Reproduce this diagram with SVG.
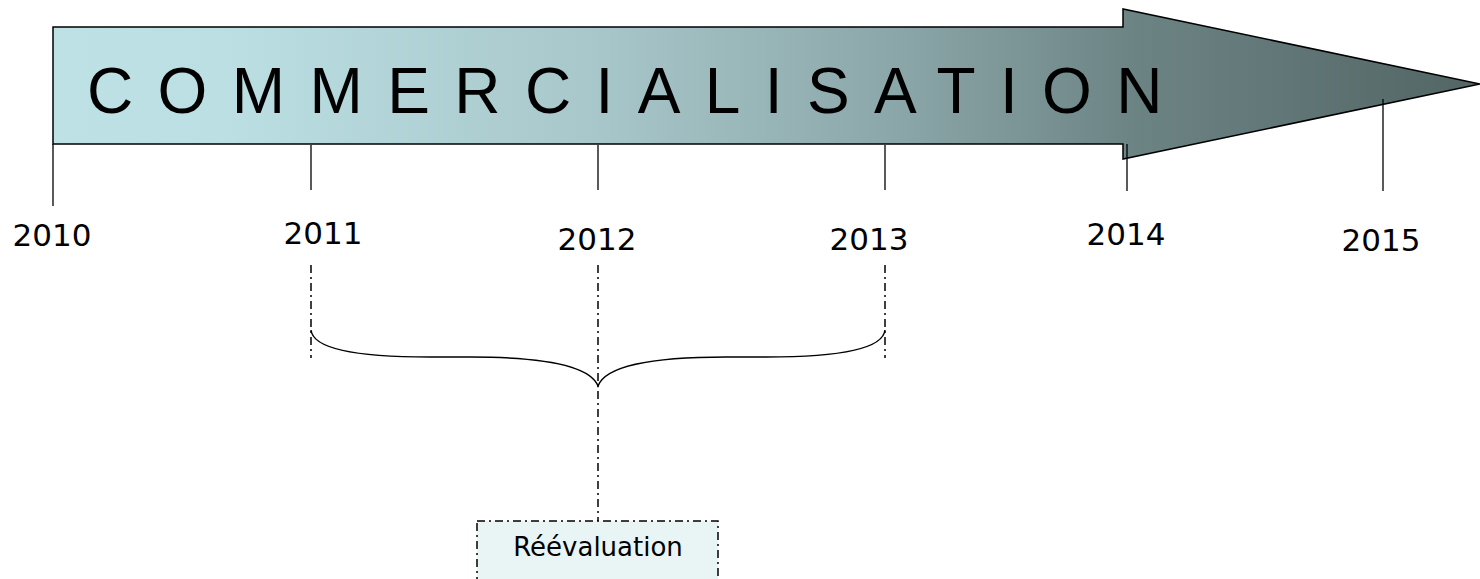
<svg xmlns="http://www.w3.org/2000/svg" width="1480" height="579" viewBox="0 0 1480 579">
  <defs>
    <linearGradient id="arrowGrad" gradientUnits="userSpaceOnUse" x1="53" y1="0" x2="1480" y2="0">
      <stop offset="0" stop-color="#bde1e5"/>
      <stop offset="0.12" stop-color="#bbdfe3"/>
      <stop offset="0.38" stop-color="#a8c7ca"/>
      <stop offset="0.6" stop-color="#8aa5a7"/>
      <stop offset="0.76" stop-color="#6c8384"/>
      <stop offset="1" stop-color="#536565"/>
    </linearGradient>
    <style>
      .tick { stroke: #000; stroke-width: 1.3; fill: none; }
      .year { font-family: "DejaVu Sans", Verdana, sans-serif; font-size: 31px; fill: #000; text-anchor: middle; }
      .dashdot { stroke: #000; stroke-width: 1.5; fill: none; stroke-dasharray: 8 4 2 4; }
      .box { stroke: #000; stroke-width: 1.5; fill: #e9f5f5; stroke-dasharray: 8 4 2 4; }
      .title { font-family: "Liberation Sans", Arial, sans-serif; font-size: 64px; fill: #000; letter-spacing: 24.4px; }
      .label { font-family: "DejaVu Sans", Verdana, sans-serif; font-size: 26px; fill: #000; text-anchor: middle; }
    </style>
  </defs>

  <g id="arrow">
    <polygon points="53,27 1123,27 1123,9 1480,84 1123,159 1123,144 53,144" fill="url(#arrowGrad)" stroke="#000" stroke-width="1.5"/>
    <text class="title" x="87" y="113">COMMERCIALISATION</text>
  </g>

  <g id="year-2010">
    <line class="tick" x1="53" y1="144" x2="53" y2="206"/>
    <text class="year" x="52" y="246">2010</text>
  </g>
  <g id="year-2011">
    <line class="tick" x1="311" y1="145" x2="311" y2="190"/>
    <text class="year" x="323" y="244">2011</text>
  </g>
  <g id="year-2012">
    <line class="tick" x1="598" y1="145" x2="598" y2="190"/>
    <text class="year" x="597" y="250">2012</text>
  </g>
  <g id="year-2013">
    <line class="tick" x1="885" y1="145" x2="885" y2="190"/>
    <text class="year" x="869" y="250">2013</text>
  </g>
  <g id="year-2014">
    <line class="tick" x1="1127" y1="144" x2="1127" y2="191"/>
    <text class="year" x="1126" y="245">2014</text>
  </g>
  <g id="year-2015">
    <line class="tick" x1="1383" y1="99" x2="1383" y2="191"/>
    <text class="year" x="1381" y="251">2015</text>
  </g>

  <g id="connectors">
    <line class="dashdot" x1="311" y1="265" x2="311" y2="358"/>
    <line class="dashdot" x1="885" y1="265" x2="885" y2="358"/>
    <line class="dashdot" x1="598" y1="265" x2="598" y2="521"/>
  </g>

  <g id="brace">
    <path d="M311,330 C313,350 360,357 430,357 L470,357 C540,357 590,365 598,386 C606,365 656,357 726,357 L766,357 C836,357 883,350 885,330" fill="none" stroke="#000" stroke-width="1.5"/>
  </g>

  <g id="reevaluation">
    <rect class="box" x="477" y="521" width="241" height="70"/>
    <text class="label" x="598" y="556">Réévaluation</text>
  </g>
</svg>
